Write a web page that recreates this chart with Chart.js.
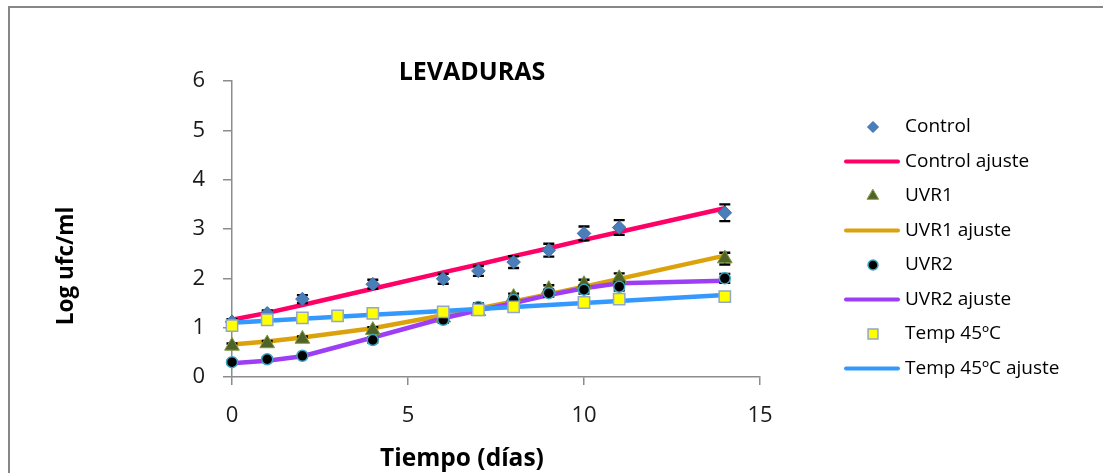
<!DOCTYPE html>
<html>
<head>
<meta charset="utf-8">
<title>Levaduras</title>
<script src="https://cdn.jsdelivr.net/npm/chart.js@4.4.1/dist/chart.umd.min.js"></script>
<style>
  html, body { margin: 0; padding: 0; background: #fff; overflow: hidden; }
  canvas { display: block; }
</style>
</head>
<body>
<canvas id="grafico" width="1103" height="473"></canvas>
<script>
// Días de muestreo
const dias = [0, 1, 2, 4, 6, 7, 8, 9, 10, 11, 14];
const diasTemp = [0, 1, 2, 3, 4, 6, 7, 8, 10, 11, 14];

// Log ufc/ml medidos y su desviación
const control = [1.12, 1.29, 1.58, 1.88, 1.99, 2.15, 2.33, 2.57, 2.91, 3.03, 3.33];
const controlErr = [0.05, 0.06, 0.08, 0.09, 0.10, 0.10, 0.12, 0.13, 0.14, 0.15, 0.17];
const uvr1 = [0.63, 0.68, 0.77, 0.95, 1.20, 1.33, 1.62, 1.78, 1.88, 2.00, 2.40];
const uvr1Err = [0.05, 0.05, 0.05, 0.06, 0.06, 0.07, 0.07, 0.08, 0.09, 0.10, 0.12];
const uvr2 = [0.30, 0.36, 0.43, 0.75, 1.16, 1.42, 1.56, 1.70, 1.77, 1.83, 2.00];
const uvr2Err = [0.03, 0.03, 0.03, 0.05, 0.06, 0.07, 0.07, 0.07, 0.08, 0.08, 0.09];
const temp45 = [1.04, 1.16, 1.20, 1.24, 1.29, 1.32, 1.36, 1.42, 1.51, 1.58, 1.63];

// Curvas de ajuste
const controlAjuste = [1.16, 1.30, 1.46, 1.79, 2.12, 2.28, 2.45, 2.61, 2.78, 2.94, 3.42];
const uvr1Ajuste = [0.66, 0.72, 0.80, 0.99, 1.25, 1.39, 1.53, 1.68, 1.83, 1.99, 2.46];
const uvr2Ajuste = [0.28, 0.33, 0.42, 0.80, 1.19, 1.35, 1.50, 1.66, 1.80, 1.90, 1.95];
const temp45Ajuste = [1.10, 1.14, 1.18, 1.22, 1.26, 1.34, 1.38, 1.42, 1.50, 1.54, 1.66];

// Ejes
const ticksX = [0, 5, 10, 15];
const ticksY = [0, 1, 2, 3, 4, 5, 6];

const titulo = 'LEVADURAS';
const tituloX = 'Tiempo (días)';
const tituloY = 'Log ufc/ml';

const FUENTE = '"Open Sans", Lato, sans-serif';
const GRIS_EJE = '#8c8c8c';

function puntos(xs, ys) {
  return xs.map((x, i) => ({ x: x, y: ys[i] }));
}

function serieMarcas(label, xs, ys, estilo, extra) {
  return Object.assign({
    label: label,
    data: puntos(xs, ys),
    showLine: false,
    pointStyle: estilo.forma,
    pointRadius: estilo.radio,
    pointBackgroundColor: estilo.relleno,
    pointBorderColor: estilo.borde,
    pointBorderWidth: estilo.grosorBorde,
    backgroundColor: estilo.relleno,
    borderColor: estilo.borde,
    clip: false,
    leyendaRadio: estilo.radioLeyenda
  }, extra || {});
}

function serieLinea(label, xs, ys, color, orden) {
  return {
    label: label,
    data: puntos(xs, ys),
    showLine: true,
    borderColor: color,
    backgroundColor: color,
    borderWidth: 4.5,
    pointRadius: 0,
    tension: 0,
    clip: false,
    order: orden
  };
}

const datasets = [
  serieMarcas('Control', dias, control,
    { forma: 'rectRot', radio: 6.8, relleno: '#4A7EBB', borde: '#3E6EA8', grosorBorde: 1, radioLeyenda: 5.5 },
    { errores: controlErr, order: 4 }),
  serieLinea('Control ajuste', dias, controlAjuste, '#FF0066', 8),
  serieMarcas('UVR1', dias, uvr1,
    { forma: 'triangle', radio: 8.5, relleno: '#4F6228', borde: '#7E9A3E', grosorBorde: 1, radioLeyenda: 6.5 },
    { errores: uvr1Err, order: 3 }),
  serieLinea('UVR1 ajuste', dias, uvr1Ajuste, '#DCA20C', 7),
  serieMarcas('UVR2', dias, uvr2,
    { forma: 'circle', radio: 5.5, relleno: '#000000', borde: '#3FA6C2', grosorBorde: 1.5, radioLeyenda: 5 },
    { errores: uvr2Err, order: 2 }),
  serieLinea('UVR2 ajuste', dias, uvr2Ajuste, '#9D3EF6', 6),
  serieMarcas('Temp 45ºC', diasTemp, temp45,
    { forma: 'rect', radio: 8, relleno: '#FFFF00', borde: '#93A7C6', grosorBorde: 1.5, radioLeyenda: 7 },
    { order: 1 }),
  serieLinea('Temp 45ºC ajuste', diasTemp, temp45Ajuste, '#3399FF', 5)
];

// Marco gris alrededor del gráfico
const marco = {
  id: 'marco',
  beforeDraw(chart) {
    const ctx = chart.ctx;
    ctx.save();
    ctx.fillStyle = '#ffffff';
    ctx.fillRect(0, 0, chart.width, chart.height);
    ctx.fillStyle = '#878787';
    ctx.fillRect(8, 6, chart.width - 8, 2);
    ctx.fillRect(8, 6, 2, chart.height - 6);
    ctx.restore();
  }
};

// Barras de error verticales con remates
const barrasError = {
  id: 'barrasError',
  beforeDatasetDraw(chart, args) {
    const ds = chart.data.datasets[args.index];
    if (!ds.errores) return;
    const escalaY = chart.scales.y;
    const ctx = chart.ctx;
    ctx.save();
    ctx.strokeStyle = '#000000';
    args.meta.data.forEach((pt, i) => {
      const v = ds.data[i].y;
      const e = ds.errores[i];
      const yArriba = escalaY.getPixelForValue(v + e);
      const yAbajo = escalaY.getPixelForValue(v - e);
      ctx.lineWidth = 1.5;
      ctx.beginPath();
      ctx.moveTo(pt.x, yArriba);
      ctx.lineTo(pt.x, yAbajo);
      ctx.stroke();
      ctx.lineWidth = 2.4;
      ctx.beginPath();
      ctx.moveTo(pt.x - 5.5, yArriba);
      ctx.lineTo(pt.x + 5.5, yArriba);
      ctx.moveTo(pt.x - 5.5, yAbajo);
      ctx.lineTo(pt.x + 5.5, yAbajo);
      ctx.stroke();
    });
    ctx.restore();
  }
};

// Títulos y leyenda
const rotulos = {
  id: 'rotulos',
  afterDraw(chart) {
    const ctx = chart.ctx;
    ctx.save();
    ctx.fillStyle = '#000000';

    ctx.font = 'bold 25px ' + FUENTE;
    ctx.textAlign = 'center';
    ctx.textBaseline = 'alphabetic';
    ctx.fillText(titulo, 472, 80);

    ctx.font = 'bold 24.5px ' + FUENTE;
    ctx.fillText(tituloX, 462, 466);

    ctx.save();
    ctx.translate(73, 266);
    ctx.rotate(-Math.PI / 2);
    ctx.font = 'bold 22.5px ' + FUENTE;
    ctx.fillText(tituloY, 0, 0);
    ctx.restore();

    // Leyenda
    ctx.textAlign = 'left';
    ctx.textBaseline = 'middle';
    ctx.font = '19px ' + FUENTE;
    chart.data.datasets.forEach((ds, i) => {
      const y = 127 + i * 34.5;
      if (ds.showLine) {
        ctx.strokeStyle = ds.borderColor;
        ctx.lineWidth = 4;
        ctx.lineCap = 'round';
        ctx.beginPath();
        ctx.moveTo(846, y);
        ctx.lineTo(898, y);
        ctx.stroke();
      } else {
        ctx.fillStyle = ds.pointBackgroundColor;
        ctx.strokeStyle = ds.pointBorderColor;
        ctx.lineWidth = ds.pointBorderWidth;
        Chart.helpers.drawPoint(ctx, {
          pointStyle: ds.pointStyle,
          radius: ds.leyendaRadio,
          rotation: 0,
          borderWidth: ds.pointBorderWidth
        }, 873, y);
      }
      ctx.fillStyle = '#000000';
      ctx.fillText(ds.label, 905, y);
    });
    ctx.restore();
  }
};

function construir() {
  new Chart(document.getElementById('grafico'), {
    type: 'scatter',
    data: { datasets: datasets },
    plugins: [marco, barrasError, rotulos],
    options: {
      responsive: false,
      maintainAspectRatio: false,
      animation: false,
      events: [],
      layout: { padding: { left: 0, top: 81, right: 343, bottom: 0 } },
      plugins: {
        legend: { display: false },
        title: { display: false },
        tooltip: { enabled: false }
      },
      scales: {
        x: {
          type: 'linear',
          min: ticksX[0],
          max: ticksX[ticksX.length - 1],
          afterFit(s) { s.height = 96; },
          afterBuildTicks(s) { s.ticks = ticksX.map(v => ({ value: v })); },
          ticks: { font: { family: FUENTE, size: 22 }, color: '#1a1a1a', padding: 18 },
          grid: { drawOnChartArea: false, drawTicks: true, tickLength: 8, color: GRIS_EJE, lineWidth: 1.5 },
          border: { display: true, color: GRIS_EJE, width: 1.5 }
        },
        y: {
          type: 'linear',
          min: ticksY[0],
          max: ticksY[ticksY.length - 1],
          afterFit(s) { s.width = 232; },
          afterBuildTicks(s) { s.ticks = ticksY.map(v => ({ value: v })); },
          ticks: { font: { family: FUENTE, size: 22 }, color: '#1a1a1a', padding: 18 },
          grid: { drawOnChartArea: false, drawTicks: true, tickLength: 9, color: GRIS_EJE, lineWidth: 1.5 },
          border: { display: true, color: GRIS_EJE, width: 1.5 }
        }
      }
    }
  });
}

const cargas = document.fonts && document.fonts.load
  ? Promise.all([document.fonts.load('22px "Open Sans"'), document.fonts.load('bold 22px "Open Sans"')])
  : Promise.resolve();
cargas.then(construir, construir);
</script>
</body>
</html>
